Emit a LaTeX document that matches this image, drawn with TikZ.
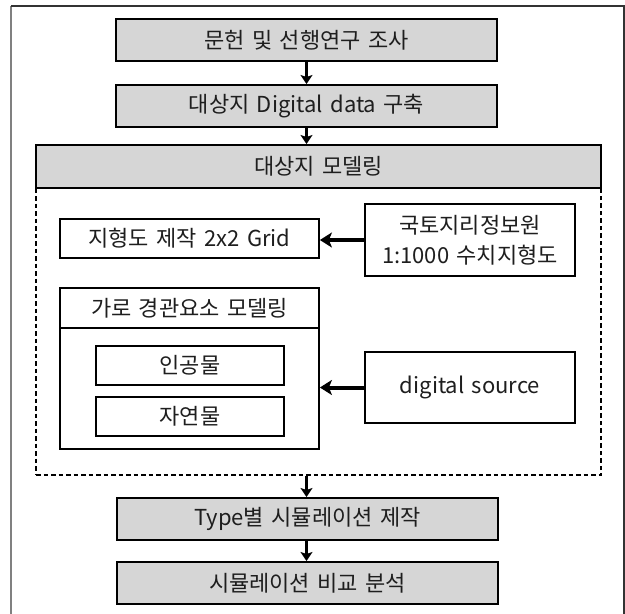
\documentclass[tikz,border=0pt]{standalone}
\usepackage{fontspec}
\setmainfont{Noto Sans CJK KR}[WordSpace=1.5]
\usepackage{xcolor}
\usetikzlibrary{arrows.meta,positioning}

\definecolor{boxgray}{RGB}{214,214,214}
\definecolor{ink}{RGB}{30,30,30}

\begin{document}
\begin{tikzpicture}[x=1pt,y=-1pt,
  font=\fontsize{22}{30}\selectfont, text=ink, node distance=22pt,
  graybox/.style={rectangle,draw=black,line width=2pt,fill=boxgray,
                  minimum width=381pt,minimum height=42pt,inner sep=0pt},
  whitebox/.style={rectangle,draw=black,line width=1.8pt,fill=white,align=center,
                   minimum height=39pt,inner sep=0pt},
  region/.style={rectangle,draw=black,line width=1.6pt,dash pattern=on 4.5pt off 3pt,
                 minimum width=565pt,minimum height=287pt,inner sep=0pt},
  arr/.style={-{Stealth[length=9pt,width=12pt,inset=2pt]},line width=3pt},
  harr/.style={-{Stealth[length=12pt,width=15pt,inset=3pt]},line width=4pt}]
\useasboundingbox (0,0) rectangle (625,614);
\clip (0,0) rectangle (625,614);
% outer frame
\draw[gray,line width=1.2pt] (11,6) -- (11,630);
\draw[black!80,line width=1.2pt] (11,6) -- (624,6) -- (624,630);
% main flow
\node[graybox] (lit) at (306.5,40) {문헌 및 선행연구 조사};
\node[graybox,below=of lit] (dig) {대상지 Digital data 구축};
\node[region] (mdl) at (318.5,331.5) {};
\node[graybox,minimum width=565pt,minimum height=43pt] (mdlhd) at (318.5,166.5) {대상지 모델링};
% inside the modelling block
\node[whitebox,minimum width=259pt] (grid) at (189.5,238.5) {지형도 제작 2x2 Grid};
\node[whitebox,minimum width=210pt,minimum height=72pt] (ngii) at (470,240) {국토지리정보원\\1:1000 수치지형도};
\node[whitebox,minimum width=259pt,minimum height=161pt] (street) at (189.5,368.5) {};
\node[whitebox,minimum width=259pt,minimum height=40pt] (streethd) at (189.5,308) {가로 경관요소 모델링};
\node[whitebox,minimum width=188pt] (artif) at (190,365.5) {인공물};
\node[whitebox,minimum width=188pt] (natur) at (190,416.5) {자연물};
\node[whitebox,minimum width=210pt,minimum height=71pt] (dsrc) at (470,387.5) {digital source};
% output steps
\node[graybox] (sim) at (307.5,519) {Type별 시뮬레이션 제작};
\node[graybox,below=20pt of sim] (cmp) {시뮬레이션 비교 분석};
% connectors
\draw[arr] (lit) -- (dig);
\draw[arr] (dig.south) -- (mdlhd.north -| dig);
\draw[harr] (ngii.west) -- (ngii.west -| grid.east);
\draw[harr] (dsrc.west) -- (dsrc.west -| street.east);
\draw[arr] (mdl.south -| lit) -- (sim.north -| lit);
\draw[arr] (sim.south -| lit) -- (cmp.north -| lit);
\end{tikzpicture}
\end{document}
